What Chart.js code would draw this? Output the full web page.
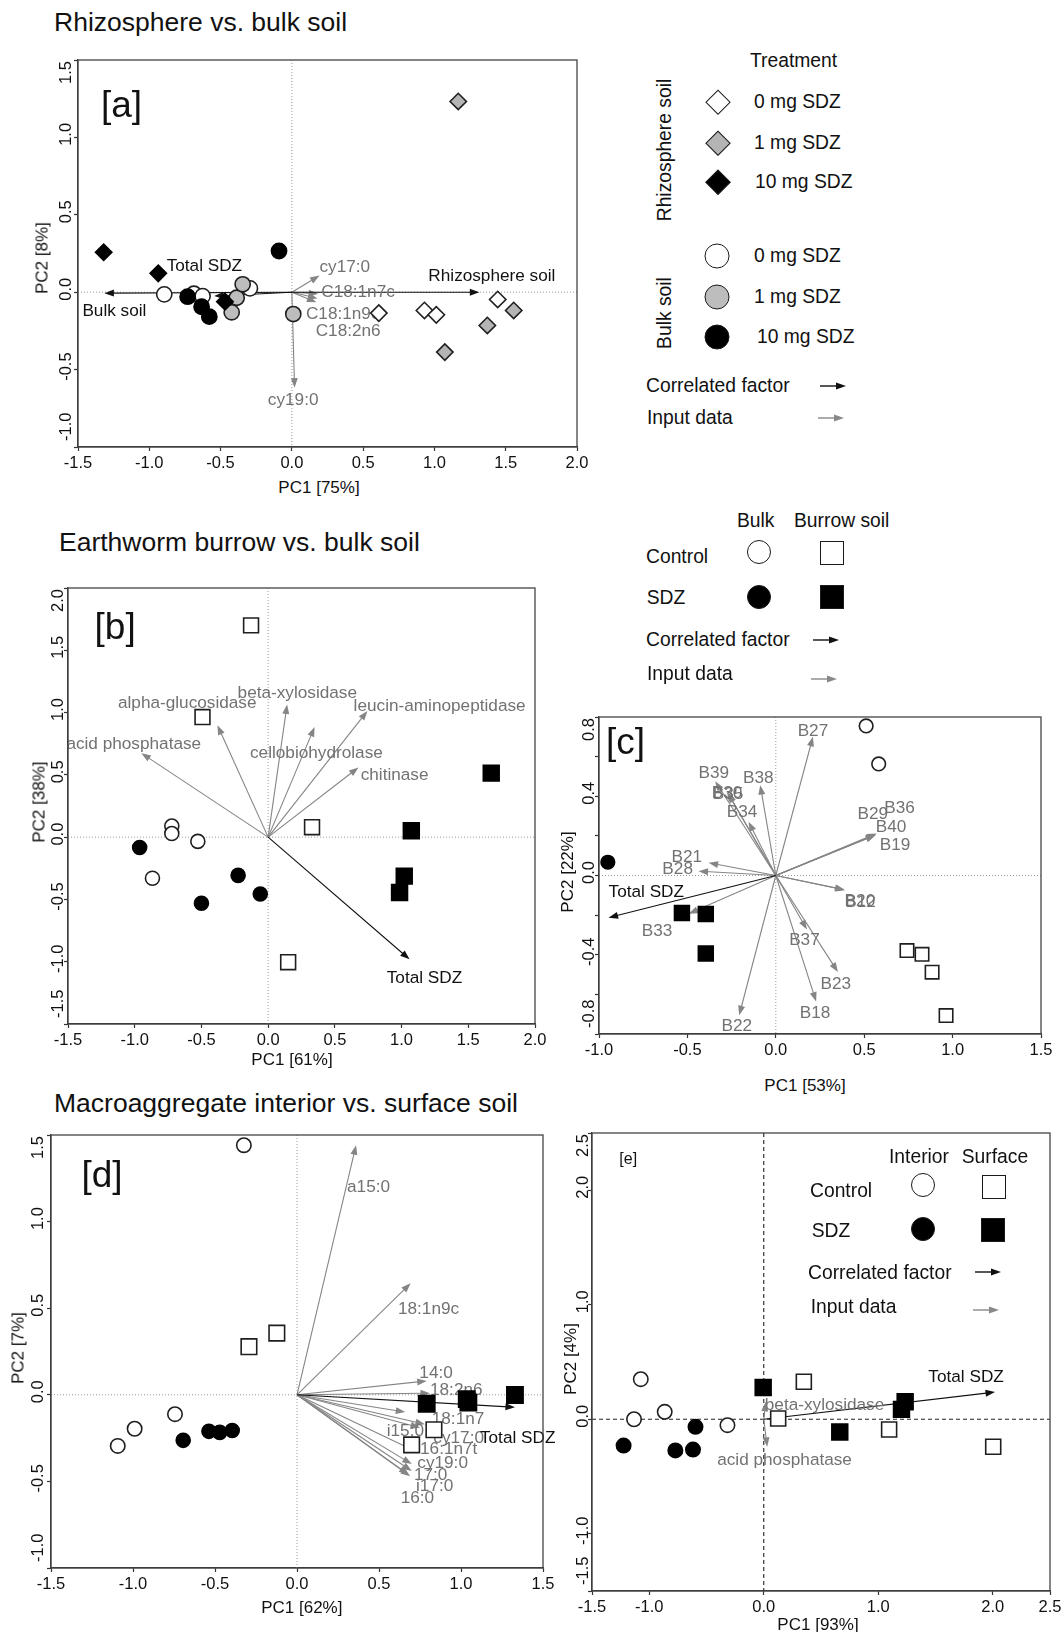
<!DOCTYPE html>
<html>
<head>
<meta charset="utf-8">
<title>PCA of soil hotspots</title>
<script src="https://cdn.jsdelivr.net/npm/chart.js@4.4.1/dist/chart.umd.min.js"></script>
<style>
  html, body { margin: 0; padding: 0; background: #fff; }
  #page { position: relative; width: 1063px; height: 1632px; overflow: hidden;
          font-family: 'Liberation Sans', Arial, Helvetica, sans-serif; color: #111; background: #fff; }
  .t { position: absolute; white-space: nowrap; line-height: 1; transform: translateY(-50%); }
  .c { position: absolute; white-space: nowrap; line-height: 1; transform: translate(-50%, -50%); }
  .v { transform: translate(-50%, -50%) rotate(-90deg); }
  .ttl { font-size: 26.5px; }
  .tag { font-size: 37px; }
  .ax { font-size: 17px; }
  .lg { font-size: 19.3px; }
  .mk { position: absolute; box-sizing: border-box; border: 1.6px solid #1a1a1a; transform: translate(-50%, -50%); }
  .dia { width: 17.7px; height: 17.7px; transform: translate(-50%, -50%) rotate(45deg); }
  .cir { width: 24px; height: 24px; border-radius: 50%; }
  .sq { width: 24px; height: 24px; }
  .arw { position: absolute; width: 26px; height: 10px; }
</style>
</head>
<body>
<div id="page">
  <!-- section titles -->
  <div class="t ttl" style="left:54px;top:21.7px">Rhizosphere vs. bulk soil</div>
  <div class="t ttl" style="left:59px;top:542px">Earthworm burrow vs. bulk soil</div>
  <div class="t ttl" style="left:54px;top:1103px">Macroaggregate interior vs. surface soil</div>

  <!-- panel tags -->
  <div class="t tag" style="left:101px;top:104.3px">[a]</div>
  <div class="t tag" style="left:94.6px;top:626.3px">[b]</div>
  <div class="t tag" style="left:606px;top:741.3px">[c]</div>
  <div class="t tag" style="left:81.4px;top:1173.6px">[d]</div>
  <div class="t" style="left:619.3px;top:1158.9px;font-size:16px">[e]</div>

  <!-- axis titles -->
  <div class="c ax" style="left:319px;top:486.7px">PC1 [75%]</div>
  <div class="c ax v" style="left:42px;top:258px">PC2 [8%]</div>
  <div class="c ax" style="left:292px;top:1059px">PC1 [61%]</div>
  <div class="c ax v" style="left:39.3px;top:802px">PC2 [38%]</div>
  <div class="c ax" style="left:805px;top:1084.8px">PC1 [53%]</div>
  <div class="c ax v" style="left:566.7px;top:872px">PC2 [22%]</div>
  <div class="c ax" style="left:301.8px;top:1607px">PC1 [62%]</div>
  <div class="c ax v" style="left:17.9px;top:1348px">PC2 [7%]</div>
  <div class="c ax" style="left:818px;top:1624px">PC1 [93%]</div>
  <div class="c ax v" style="left:570px;top:1359px">PC2 [4%]</div>

  <!-- legend: rhizosphere vs bulk -->
  <div class="t lg" style="left:750px;top:60.7px">Treatment</div>
  <div class="c lg v" style="left:665px;top:150px">Rhizosphere soil</div>
  <div class="c lg v" style="left:665px;top:313px">Bulk soil</div>
  <div class="mk dia" style="left:718px;top:101.7px;background:#fff"></div>
  <div class="mk dia" style="left:718px;top:143.3px;background:#b4b4b4"></div>
  <div class="mk dia" style="left:718px;top:181.7px;background:#000"></div>
  <div class="t lg" style="left:754px;top:101.7px">0 mg SDZ</div>
  <div class="t lg" style="left:754px;top:143.3px">1 mg SDZ</div>
  <div class="t lg" style="left:755px;top:181.7px">10 mg SDZ</div>
  <div class="mk cir" style="left:717px;top:256px;width:25px;height:25px;background:#fff"></div>
  <div class="mk cir" style="left:717px;top:296.7px;width:25px;height:25px;background:#bdbdbd"></div>
  <div class="mk cir" style="left:717px;top:336.7px;width:25px;height:25px;background:#000"></div>
  <div class="t lg" style="left:754px;top:256px">0 mg SDZ</div>
  <div class="t lg" style="left:754px;top:296.7px">1 mg SDZ</div>
  <div class="t lg" style="left:757px;top:336.7px">10 mg SDZ</div>
  <div class="t lg" style="left:646px;top:385.7px">Correlated factor</div>
  <svg class="arw" style="left:820px;top:380.7px" viewBox="0 0 26 10"><line x1="0" y1="5" x2="18" y2="5" stroke="#111" stroke-width="1.4"/><polygon points="26,5 16,1.5 16,8.5" fill="#111"/></svg>
  <div class="t lg" style="left:647px;top:417.7px">Input data</div>
  <svg class="arw" style="left:818px;top:413px" viewBox="0 0 26 10"><line x1="0" y1="5" x2="18" y2="5" stroke="#888" stroke-width="1.4"/><polygon points="26,5 16,1.5 16,8.5" fill="#888"/></svg>

  <!-- legend: burrow vs bulk -->
  <div class="t lg" style="left:737px;top:521.4px">Bulk</div>
  <div class="t lg" style="left:794px;top:521.4px">Burrow soil</div>
  <div class="t lg" style="left:646px;top:557px">Control</div>
  <div class="mk cir" style="left:759.3px;top:552.1px;background:#fff"></div>
  <div class="mk sq" style="left:832px;top:553.3px;background:#fff"></div>
  <div class="t lg" style="left:646.7px;top:598.4px">SDZ</div>
  <div class="mk cir" style="left:759.3px;top:596.5px;background:#000"></div>
  <div class="mk sq" style="left:831.7px;top:596.5px;background:#000"></div>
  <div class="t lg" style="left:646px;top:640.2px">Correlated factor</div>
  <svg class="arw" style="left:813px;top:635px" viewBox="0 0 26 10"><line x1="0" y1="5" x2="18" y2="5" stroke="#111" stroke-width="1.4"/><polygon points="26,5 16,1.5 16,8.5" fill="#111"/></svg>
  <div class="t lg" style="left:647px;top:674.2px">Input data</div>
  <svg class="arw" style="left:811px;top:673.7px" viewBox="0 0 26 10"><line x1="0" y1="5" x2="18" y2="5" stroke="#888" stroke-width="1.4"/><polygon points="26,5 16,1.5 16,8.5" fill="#888"/></svg>

  <!-- legend: aggregate interior vs surface -->
  <div class="t lg" style="left:889px;top:1156.7px">Interior</div>
  <div class="t lg" style="left:961.7px;top:1156.7px">Surface</div>
  <div class="t lg" style="left:810px;top:1190.6px">Control</div>
  <div class="mk cir" style="left:922.7px;top:1184.8px;background:#fff"></div>
  <div class="mk sq" style="left:994px;top:1187px;background:#fff"></div>
  <div class="t lg" style="left:811.7px;top:1230.7px">SDZ</div>
  <div class="mk cir" style="left:922.7px;top:1228.9px;background:#000"></div>
  <div class="mk sq" style="left:993.3px;top:1229.6px;background:#000"></div>
  <div class="t lg" style="left:808px;top:1273.4px">Correlated factor</div>
  <svg class="arw" style="left:975px;top:1266.6px" viewBox="0 0 26 10"><line x1="0" y1="5" x2="18" y2="5" stroke="#111" stroke-width="1.4"/><polygon points="26,5 16,1.5 16,8.5" fill="#111"/></svg>
  <div class="t lg" style="left:810.7px;top:1307px">Input data</div>
  <svg class="arw" style="left:973px;top:1305px" viewBox="0 0 26 10"><line x1="0" y1="5" x2="18" y2="5" stroke="#888" stroke-width="1.4"/><polygon points="26,5 16,1.5 16,8.5" fill="#888"/></svg>
</div>

<script>
// ---------- [a] rhizosphere vs. bulk soil (PC1 / PC2 scores) ----------
const A_BULK_0   = [[-0.895, -0.014], [-0.687, -0.010], [-0.626, -0.025], [-0.294, 0.025]];
const A_BULK_1   = [[-0.387, -0.036], [-0.345, 0.051], [-0.422, -0.130], [0.010, -0.141]];
const A_BULK_10  = [[-0.731, -0.029], [-0.633, -0.094], [-0.579, -0.158], [-0.090, 0.266]];
const A_RHIZO_0  = [[0.610, -0.135], [0.930, -0.118], [1.013, -0.146], [1.444, -0.047]];
const A_RHIZO_1  = [[1.167, 1.232], [1.556, -0.118], [1.371, -0.215], [1.073, -0.387]];
const A_RHIZO_10 = [[-1.320, 0.258], [-0.937, 0.122], [-0.469, -0.061]];
const A_FACTOR_NAMES = ['Rhizosphere soil', 'Bulk soil', 'Total SDZ'];
const A_FACTOR_X = [1.315, -1.315, -0.545];
const A_FACTOR_Y = [0.000, -0.006, -0.025];
const A_INPUT_NAMES = ['cy17:0', 'C18:1n7c', 'C18:1n9c', 'C18:2n6', 'cy19:0'];
const A_INPUT_X = [0.194, 0.185, 0.180, 0.172, 0.019];
const A_INPUT_Y = [0.108, -0.010, -0.040, -0.065, -0.617];

// ---------- [b] earthworm burrow vs. bulk soil, enzymes ----------
const B_BULK_CTRL   = [[-0.722, 0.089], [-0.722, 0.029], [-0.527, -0.034], [-0.867, -0.330]];
const B_BULK_SDZ    = [[-0.963, -0.083], [-0.225, -0.307], [-0.059, -0.456], [-0.500, -0.531]];
const B_BURROW_CTRL = [[-0.128, 1.700], [-0.492, 0.964], [0.329, 0.080], [0.150, -1.004]];
const B_BURROW_SDZ  = [[1.672, 0.514], [1.073, 0.052], [1.020, -0.313], [0.985, -0.445]];
const B_INPUT_NAMES = ['acid phosphatase', 'alpha-glucosidase', 'beta-xylosidase', 'cellobiohydrolase', 'leucin-aminopeptidase', 'chitinase'];
const B_INPUT_X = [-0.950, -0.380, 0.142, 0.348, 0.744, 0.677];
const B_INPUT_Y = [0.674, 0.898, 1.065, 0.884, 1.013, 0.560];
const B_FACTOR_NAMES = ['Total SDZ'];
const B_FACTOR_X = [1.060];
const B_FACTOR_Y = [-0.981];

// ---------- [c] earthworm burrow vs. bulk soil, bands ----------
const C_BULK_CTRL   = [[0.511, 0.755], [0.582, 0.563]];
const C_BULK_SDZ    = [[-0.950, 0.067]];
const C_BURROW_CTRL = [[0.742, -0.379], [0.827, -0.398], [0.884, -0.488], [0.963, -0.707]];
const C_BURROW_SDZ  = [[-0.531, -0.189], [-0.396, -0.194], [-0.396, -0.394]];
const C_INPUT_NAMES = ['B27', 'B39', 'B38', 'B30', 'B35', 'B34', 'B29', 'B36', 'B40', 'B19', 'B21', 'B28', 'B12', 'B20', 'B33', 'B37', 'B23', 'B18', 'B22'];
const C_INPUT_X = [0.210, -0.343, -0.088, -0.276, -0.270, -0.154, 0.567, 0.570, 0.565, 0.562, -0.380, -0.437, 0.392, 0.388, -0.493, 0.176, 0.351, 0.228, -0.207];
const C_INPUT_Y = [0.700, 0.476, 0.456, 0.422, 0.415, 0.271, 0.207, 0.212, 0.205, 0.203, 0.064, 0.022, -0.074, -0.072, -0.193, -0.273, -0.487, -0.636, -0.705];
const C_FACTOR_NAMES = ['Total SDZ'];
const C_FACTOR_X = [-0.946];
const C_FACTOR_Y = [-0.213];

// ---------- [d] macroaggregate interior vs. surface, PLFA ----------
const D_INT_CTRL  = [[-0.324, 1.441], [-0.744, -0.112], [-0.990, -0.196], [-1.093, -0.295]];
const D_INT_SDZ   = [[-0.537, -0.211], [-0.471, -0.217], [-0.395, -0.206], [-0.694, -0.263]];
const D_SURF_CTRL = [[-0.123, 0.356], [-0.293, 0.278], [0.835, -0.202], [0.699, -0.289]];
const D_SURF_SDZ  = [[0.791, -0.052], [1.035, -0.025], [1.045, -0.045], [1.329, -0.001]];
const D_INPUT_NAMES = ['a15:0', '18:1n9c', '14:0', '18:2n6', '18:1n7', 'i15:0', 'cy17:0', '16:1n7t', 'cy19:0', '17:0', 'i17:0', '16:0'];
const D_INPUT_X = [0.360, 0.693, 0.791, 0.811, 0.660, 0.750, 0.780, 0.730, 0.700, 0.690, 0.700, 0.680];
const D_INPUT_Y = [1.441, 0.644, 0.080, 0.009, -0.100, -0.190, -0.170, -0.330, -0.400, -0.470, -0.440, -0.460];
const D_FACTOR_NAMES = ['Total SDZ'];
const D_FACTOR_X = [1.329];
const D_FACTOR_Y = [-0.072];

// ---------- [e] macroaggregate interior vs. surface, enzymes ----------
const E_INT_CTRL  = [[-1.074, 0.350], [-1.133, 0.000], [-0.865, 0.065], [-0.317, -0.052]];
const E_INT_SDZ   = [[-1.224, -0.230], [-0.772, -0.272], [-0.618, -0.265], [-0.596, -0.066]];
const E_SURF_CTRL = [[0.350, 0.327], [0.126, 0.007], [1.095, -0.089], [2.004, -0.240]];
const E_SURF_SDZ  = [[-0.005, 0.278], [0.664, -0.112], [1.235, 0.153], [1.203, 0.086]];
const E_INPUT_NAMES = ['beta-xylosidase', 'acid phosphatase'];
const E_INPUT_X = [0.018, 0.030];
const E_INPUT_Y = [0.152, -0.241];
const E_FACTOR_NAMES = ['Total SDZ'];
const E_FACTOR_X = [2.020];
const E_FACTOR_Y = [0.237];
const E_X_TICKS = [-1.5, -1.0, 0.0, 1.0, 2.0, 2.5];
const E_Y_TICKS = [-1.5, -1.0, 0.0, 1.0, 2.0, 2.5];

// ---------- label placement next to arrow tips: [dx px, dy px, align] ----------
const A_LABEL_POS = {
  'Rhizosphere soil': [-51, -15.5, 'left'], 'Bulk soil': [-22, 18.6, 'left'], 'Total SDZ': [-47.5, -29.4, 'left'],
  'cy17:0': [0, -8, 'left'], 'C18:1n7c': [3, -1, 'left'], 'C18:1n9c': [-11.6, 16, 'left'],
  'C18:2n6': [-0.7, 28.7, 'left'], 'cy19:0': [-26.7, 12.3, 'left']
};
const B_LABEL_POS = {
  'acid phosphatase': [-75, -9, 'left'], 'alpha-glucosidase': [-99.5, -22.2, 'left'],
  'beta-xylosidase': [-49.5, -11.4, 'left'], 'cellobiohydrolase': [-64.6, 26.7, 'left'],
  'leucin-aminopeptidase': [-13.8, -4.8, 'left'], 'chitinase': [2.2, 7.8, 'left'], 'Total SDZ': [-22.8, 18.9, 'left']
};
const C_LABEL_POS = {
  'B27': [0, -6, 'center'], 'B39': [-1.3, -7.7, 'center'], 'B38': [-2, -6.7, 'center'],
  'B30': [0, 1, 'center'], 'B35': [0, 1, 'center'], 'B34': [-6.6, -10, 'center'],
  'B29': [-3.2, -20, 'center'], 'B36': [23, -25, 'center'], 'B40': [15.3, -7.6, 'center'], 'B19': [19.8, 9.7, 'center'],
  'B21': [-6.6, -6, 'right'], 'B28': [-5.6, -1.4, 'right'], 'B12': [15.5, 11.7, 'center'], 'B20': [15.5, 11.7, 'center'],
  'B33': [-31.5, 17.7, 'center'], 'B37': [-2.5, 11, 'center'], 'B23': [-2, 12, 'center'], 'B18': [-1, 12, 'center'],
  'B22': [-2.5, 11.5, 'center'], 'Total SDZ': [0, -25, 'left']
};
const D_LABEL_POS = {
  'a15:0': [-9, 41.6, 'left'], '18:1n9c': [-12.7, 26, 'left'], '14:0': [-7.4, -7.7, 'left'], '18:2n6': [0, -3.3, 'left'],
  '18:1n7': [26.5, 7.1, 'left'], 'i15:0': [-33.3, 3.9, 'left'], 'cy17:0': [8.4, 13.9, 'left'],
  '16:1n7t': [3.3, -3.1, 'left'], 'cy19:0': [5.5, -1, 'left'], '17:0': [3.8, -1.4, 'left'],
  'i17:0': [4.2, 15.7, 'left'], '16:0': [-7.8, 24.2, 'left'], 'Total SDZ': [-35, 31, 'left']
};
const E_LABEL_POS = {
  'beta-xylosidase': [-1, 3, 'left'], 'acid phosphatase': [-50, 13.9, 'left'], 'Total SDZ': [-66.7, -15.3, 'left']
};

const FONT = "'Liberation Sans', Arial, Helvetica, sans-serif";
const INK = '#111';
const GREY_TXT = '#727272';
const GREY_ARW = '#858585';
const GREY_FILL = '#b4b4b4';
Chart.defaults.font.family = FONT;

function fmt(v) { return Math.abs(v) < 1e-9 ? '0.0' : v.toFixed(1); }
function pts(arr) { return arr.map(([x, y]) => ({ x, y })); }
function vectors(names, xs, ys, kind) { return names.map((n, i) => ({ name: n, x: xs[i], y: ys[i], kind })); }
function series(data, style, r, fill) {
  return {
    data: pts(data), pointStyle: style, pointRadius: r, pointHoverRadius: r,
    backgroundColor: fill, borderColor: fill === '#000' ? '#000' : '#1f1f1f', borderWidth: 1.6
  };
}

function drawArrow(ctx, x1, y1, x2, y2, color) {
  const ang = Math.atan2(y2 - y1, x2 - x1), head = 9.5, hw = 3.5;
  ctx.strokeStyle = color; ctx.fillStyle = color; ctx.lineWidth = 1.1;
  ctx.beginPath(); ctx.moveTo(x1, y1);
  ctx.lineTo(x2 - Math.cos(ang) * head * 0.7, y2 - Math.sin(ang) * head * 0.7); ctx.stroke();
  ctx.beginPath(); ctx.moveTo(x2, y2);
  ctx.lineTo(x2 - head * Math.cos(ang) + hw * Math.sin(ang), y2 - head * Math.sin(ang) - hw * Math.cos(ang));
  ctx.lineTo(x2 - head * Math.cos(ang) - hw * Math.sin(ang), y2 - head * Math.sin(ang) + hw * Math.cos(ang));
  ctx.closePath(); ctx.fill();
}

function biplotPlugin(p) {
  return {
    id: 'biplot_' + p.id,
    beforeDatasetsDraw(chart) {
      const { ctx, chartArea: a, scales: { x, y } } = chart;
      const x0 = x.getPixelForValue(0), y0 = y.getPixelForValue(0);
      ctx.save();
      // zero reference lines
      ctx.strokeStyle = p.zero.color; ctx.lineWidth = p.zero.width; ctx.setLineDash(p.zero.dash);
      ctx.beginPath(); ctx.moveTo(a.left, y0); ctx.lineTo(a.right, y0); ctx.stroke();
      ctx.beginPath(); ctx.moveTo(x0, a.top); ctx.lineTo(x0, a.bottom); ctx.stroke();
      ctx.setLineDash([]);
      // loading vectors, input data first, correlated factors on top
      const order = p.vectors.filter(v => v.kind === 'input').concat(p.vectors.filter(v => v.kind !== 'input'));
      order.forEach(v => {
        drawArrow(ctx, x0, y0, x.getPixelForValue(v.x), y.getPixelForValue(v.y), v.kind === 'input' ? GREY_ARW : INK);
      });
      ctx.font = '17.2px ' + FONT; ctx.textBaseline = 'middle';
      order.forEach(v => {
        const off = p.labels[v.name] || [4, -8, 'left'];
        ctx.fillStyle = v.kind === 'input' ? GREY_TXT : INK;
        ctx.textAlign = off[2];
        ctx.fillText(v.name, x.getPixelForValue(v.x) + off[0], y.getPixelForValue(v.y) + off[1]);
      });
      ctx.restore();
    },
    afterDraw(chart) {
      const { ctx, chartArea: a, scales: { y } } = chart;
      ctx.save();
      ctx.strokeStyle = '#444'; ctx.lineWidth = 1.3;
      ctx.strokeRect(a.left, a.top, a.right - a.left, a.bottom - a.top);
      // rotated y tick labels
      ctx.fillStyle = INK; ctx.font = '16.5px ' + FONT; ctx.textBaseline = 'middle';
      y.ticks.forEach(t => {
        if (p.yLabelIf && !p.yLabelIf(t.value)) return;
        const py = y.getPixelForValue(t.value);
        ctx.save();
        ctx.translate(a.left - p.yOff, py);
        ctx.rotate(-Math.PI / 2);
        let shift = 3;
        if (t.value === y.min) { ctx.textAlign = 'left'; shift = 6; }
        else if (t.value === y.max) { ctx.textAlign = 'right'; shift = -1; }
        else ctx.textAlign = 'center';
        ctx.fillText(fmt(t.value), shift, 0);
        ctx.restore();
      });
      ctx.restore();
    }
  };
}

const page = document.getElementById('page');

function makePanel(p) {
  const W = 30, H = 30, PT = 14, PR = 16;
  const left = p.box.l - W, top = p.box.t - PT;
  const width = p.box.r - p.box.l + W + PR, height = p.box.b - p.box.t + PT + H;
  const cv = document.createElement('canvas');
  cv.width = width; cv.height = height;
  cv.style.cssText = `position:absolute;left:${left}px;top:${top}px;width:${width}px;height:${height}px;`;
  page.insertBefore(cv, page.firstChild);
  const grid = { drawOnChartArea: false, drawTicks: true, tickLength: 4, tickColor: '#333', tickWidth: 1.2 };
  new Chart(cv.getContext('2d'), {
    type: 'scatter',
    data: { datasets: p.datasets },
    options: {
      responsive: false, animation: false, devicePixelRatio: 1,
      layout: { padding: { left: 0, top: PT, right: PR, bottom: 0 } },
      plugins: { legend: { display: false }, tooltip: { enabled: false } },
      scales: {
        x: {
          type: 'linear', position: 'bottom', min: p.x.min, max: p.x.max,
          afterBuildTicks: p.x.ticks ? (s => { s.ticks = p.x.ticks.map(v => ({ value: v })); }) : undefined,
          afterFit: s => { s.height = H; s.paddingLeft = 0; s.paddingRight = 0; },
          ticks: { stepSize: p.x.step, autoSkip: false, maxRotation: 0, minRotation: 0, padding: 3,
                   color: INK, font: { size: 16.5 }, callback: v => fmt(v) },
          grid, border: { display: true, color: '#333', width: 1.2 }
        },
        y: {
          type: 'linear', position: 'left', min: p.y.min, max: p.y.max,
          afterBuildTicks: p.y.ticks ? (s => { s.ticks = p.y.ticks.map(v => ({ value: v })); }) : undefined,
          afterFit: s => { s.width = W; s.paddingTop = 0; s.paddingBottom = 0; },
          ticks: { display: false, stepSize: p.y.step },
          grid, border: { display: true, color: '#333', width: 1.2 }
        }
      }
    },
    plugins: [biplotPlugin(p)]
  });
}

const DOTTED = { color: '#9a9a9a', width: 1, dash: [1, 2] };

makePanel({
  id: 'a', box: { l: 78, t: 60, r: 577, b: 447 },
  x: { min: -1.5, max: 2.0, step: 0.5 }, y: { min: -1.0, max: 1.5, step: 0.5 }, yOff: 12, zero: DOTTED,
  datasets: [
    series(A_RHIZO_10, 'rectRot', 8.2, '#000'),
    series(A_BULK_10, 'circle', 7.6, '#000'),
    series(A_RHIZO_1, 'rectRot', 8.2, GREY_FILL),
    series(A_BULK_1, 'circle', 7.6, '#bdbdbd'),
    series(A_RHIZO_0, 'rectRot', 8.2, '#fff'),
    series(A_BULK_0, 'circle', 7.6, '#fff')
  ],
  vectors: vectors(A_INPUT_NAMES, A_INPUT_X, A_INPUT_Y, 'input').concat(vectors(A_FACTOR_NAMES, A_FACTOR_X, A_FACTOR_Y, 'factor')),
  labels: A_LABEL_POS
});

makePanel({
  id: 'b', box: { l: 68, t: 588, r: 535, b: 1024 },
  x: { min: -1.5, max: 2.0, step: 0.5 }, y: { min: -1.5, max: 2.0, step: 0.5 }, yOff: 9.5, zero: DOTTED,
  datasets: [
    series(B_BURROW_SDZ, 'rect', 11.2, '#000'),
    series(B_BULK_SDZ, 'circle', 7, '#000'),
    series(B_BURROW_CTRL, 'rect', 10.5, '#fff'),
    series(B_BULK_CTRL, 'circle', 7, '#fff')
  ],
  vectors: vectors(B_INPUT_NAMES, B_INPUT_X, B_INPUT_Y, 'input').concat(vectors(B_FACTOR_NAMES, B_FACTOR_X, B_FACTOR_Y, 'factor')),
  labels: B_LABEL_POS
});

makePanel({
  id: 'c', box: { l: 599, t: 717, r: 1041, b: 1034 },
  x: { min: -1.0, max: 1.5, step: 0.5 }, y: { min: -0.8, max: 0.8, step: 0.2 }, yOff: 10, zero: DOTTED,
  yLabelIf: v => Math.abs(v / 0.4 - Math.round(v / 0.4)) < 1e-6,
  datasets: [
    series(C_BURROW_SDZ, 'rect', 10.5, '#000'),
    series(C_BULK_SDZ, 'circle', 6.8, '#000'),
    series(C_BURROW_CTRL, 'rect', 9.5, '#fff'),
    series(C_BULK_CTRL, 'circle', 6.8, '#fff')
  ],
  vectors: vectors(C_INPUT_NAMES, C_INPUT_X, C_INPUT_Y, 'input').concat(vectors(C_FACTOR_NAMES, C_FACTOR_X, C_FACTOR_Y, 'factor')),
  labels: C_LABEL_POS
});

makePanel({
  id: 'd', box: { l: 51, t: 1135, r: 543, b: 1568 },
  x: { min: -1.5, max: 1.5, step: 0.5 }, y: { min: -1.0, max: 1.5, step: 0.5 }, yOff: 13, zero: DOTTED,
  datasets: [
    series(D_SURF_SDZ, 'rect', 11.5, '#000'),
    series(D_INT_SDZ, 'circle', 7, '#000'),
    series(D_SURF_CTRL, 'rect', 11, '#fff'),
    series(D_INT_CTRL, 'circle', 7.2, '#fff')
  ],
  vectors: vectors(D_INPUT_NAMES, D_INPUT_X, D_INPUT_Y, 'input').concat(vectors(D_FACTOR_NAMES, D_FACTOR_X, D_FACTOR_Y, 'factor')),
  labels: D_LABEL_POS
});

makePanel({
  id: 'e', box: { l: 592, t: 1133, r: 1050, b: 1591 },
  x: { min: -1.5, max: 2.5, ticks: E_X_TICKS }, y: { min: -1.5, max: 2.5, ticks: E_Y_TICKS }, yOff: 8.5,
  zero: { color: '#222', width: 1.1, dash: [4, 3] },
  datasets: [
    series(E_SURF_SDZ, 'rect', 11.2, '#000'),
    series(E_INT_SDZ, 'circle', 7.2, '#000'),
    series(E_SURF_CTRL, 'rect', 10.6, '#fff'),
    series(E_INT_CTRL, 'circle', 7.2, '#fff')
  ],
  vectors: vectors(E_INPUT_NAMES, E_INPUT_X, E_INPUT_Y, 'input').concat(vectors(E_FACTOR_NAMES, E_FACTOR_X, E_FACTOR_Y, 'factor')),
  labels: E_LABEL_POS
});
</script>
</body>
</html>
